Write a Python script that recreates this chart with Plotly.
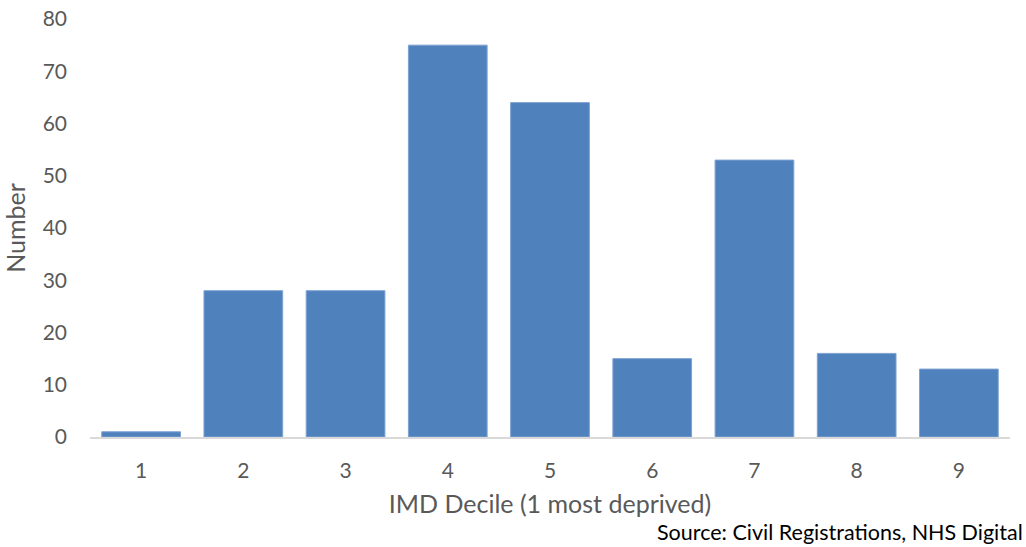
import plotly.graph_objects as go

# IMD deciles and counts
deciles = ["1", "2", "3", "4", "5", "6", "7", "8", "9"]
counts = [1, 28, 28, 75, 64, 15, 53, 16, 13]
y_ticks = [0, 10, 20, 30, 40, 50, 60, 70, 80]

x_title = "IMD Decile (1 most deprived)"
y_title = "Number"
source_text = "Source: Civil Registrations, NHS Digital"

FONT = "Lato"
GREY = "#595959"

fig = go.Figure()
fig.add_trace(go.Bar(
    x=deciles, y=counts,
    marker=dict(color="#4f81bd", line=dict(color="#7ea3d2", width=1)),
    showlegend=False,
))

fig.update_layout(
    width=1026, height=547,
    margin=dict(l=90, r=16, t=19, b=110),
    plot_bgcolor="white", paper_bgcolor="white",
    bargap=0.23,
    font=dict(family=FONT, size=21, color=GREY),
    xaxis=dict(
        showline=True, linecolor="#d9d9d9", linewidth=2,
        ticks="", showgrid=False, ticklabelstandoff=14, automargin=False,
        title=dict(text=x_title, standoff=14),
    ),
    yaxis=dict(
        range=[0, 80], tickvals=y_ticks, showgrid=False, zeroline=False,
        showline=False, ticks="", ticklabelstandoff=22, automargin=False,
        title=dict(text=y_title, standoff=14),
    ),
)

fig.add_annotation(
    text=source_text, xref="paper", yref="paper", x=1.016, y=-0.228,
    xanchor="right", yanchor="middle", showarrow=False,
    font=dict(family=FONT, size=21.5, color="black"),
)

fig.write_html("out.html", config={"displayModeBar": False},
               post_script="document.body.style.margin='0';")
